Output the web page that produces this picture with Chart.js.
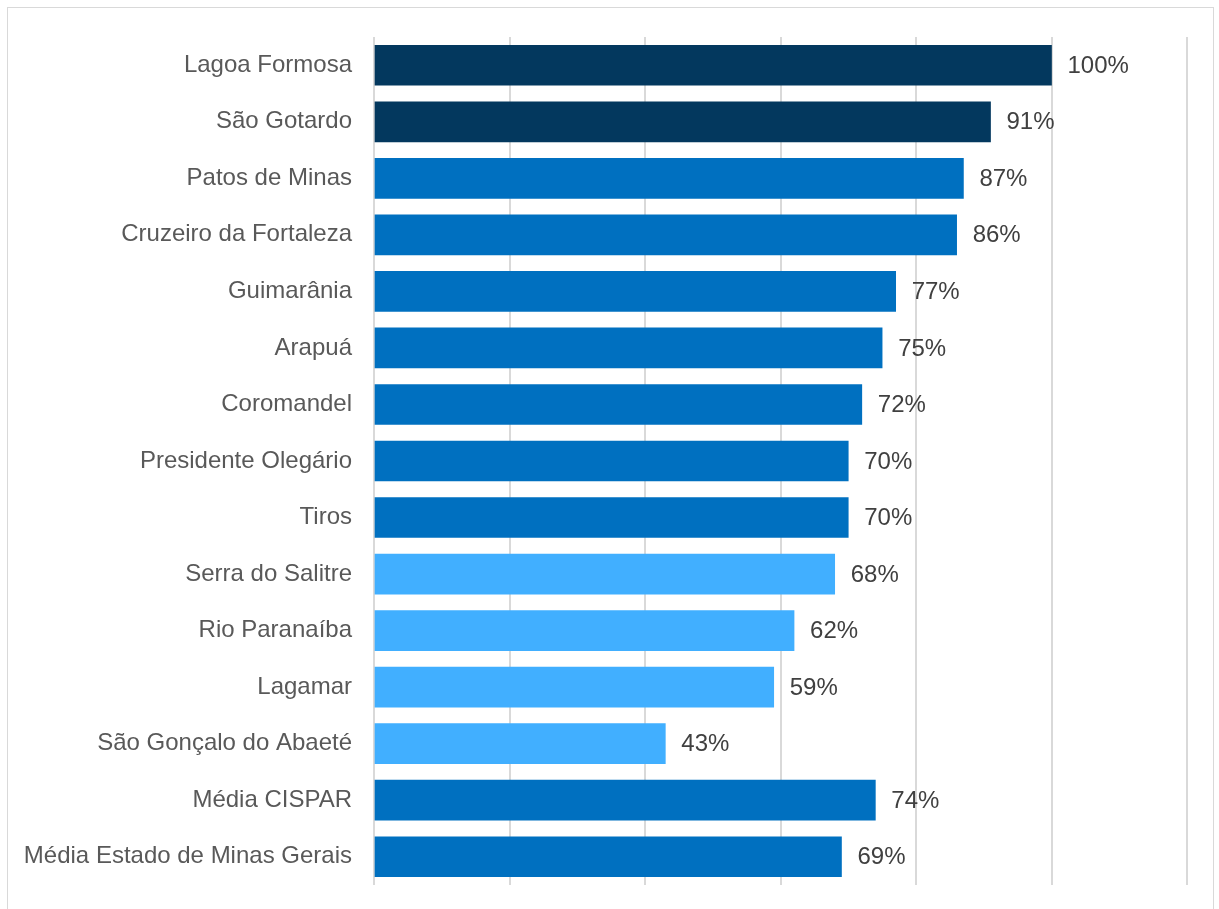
<!DOCTYPE html>
<html>
<head>
<meta charset="utf-8">
<script src="https://cdn.jsdelivr.net/npm/chart.js@4/dist/chart.umd.min.js"></script>
<style>
  html, body { margin: 0; padding: 0; background: #fff; overflow: hidden; }
  #frame {
    position: absolute; left: 7px; top: 7px;
    width: 1207px; height: 920px;
    border: 1px solid #d9d9d9;
    box-sizing: border-box;
  }
  #barChart { position: absolute; left: 0; top: 0; }
</style>
</head>
<body>
<div id="frame"></div>
<canvas id="barChart" width="1219" height="909"></canvas>
<script>
const municipios = [
  'Lagoa Formosa', 'São Gotardo', 'Patos de Minas', 'Cruzeiro da Fortaleza',
  'Guimarânia', 'Arapuá', 'Coromandel', 'Presidente Olegário', 'Tiros',
  'Serra do Salitre', 'Rio Paranaíba', 'Lagamar', 'São Gonçalo do Abaeté',
  'Média CISPAR', 'Média Estado de Minas Gerais'
];
const percentuais = [100, 91, 87, 86, 77, 75, 72, 70, 70, 68, 62, 59, 43, 74, 69];
// faixa de cor de cada barra: 0 = topo, 1 = intermediário, 2 = abaixo
const faixas = [0, 0, 1, 1, 1, 1, 1, 1, 1, 2, 2, 2, 2, 1, 1];

const CORES = ['#03385e', '#0070c0', '#41afff'];
const FONTE = "'Liberation Sans', Arial, sans-serif";

// rótulos de valor à direita de cada barra
const rotulosValor = {
  id: 'rotulosValor',
  afterDatasetsDraw(chart) {
    const ctx = chart.ctx;
    const meta = chart.getDatasetMeta(0);
    ctx.save();
    ctx.font = '24px ' + FONTE;
    ctx.fillStyle = '#404040';
    ctx.textAlign = 'left';
    ctx.textBaseline = 'middle';
    meta.data.forEach((bar, i) => {
      ctx.fillText(Math.round(percentuais[i]) + '%', bar.x + 16, bar.y + 1);
    });
    ctx.restore();
  }
};

new Chart(document.getElementById('barChart').getContext('2d'), {
  type: 'bar',
  data: {
    labels: municipios,
    datasets: [{
      data: percentuais,
      backgroundColor: faixas.map(f => CORES[f]),
      barThickness: 40,
      borderWidth: 0
    }]
  },
  options: {
    indexAxis: 'y',
    responsive: false,
    animation: false,
    layout: { padding: { top: 37, bottom: 24, right: 32, left: 0 } },
    plugins: {
      legend: { display: false },
      tooltip: { enabled: false }
    },
    scales: {
      x: {
        min: 0, max: 120,
        afterFit(scale) { scale.height = 0; },
        ticks: { display: false, stepSize: 20, padding: 0 },
        grid: { color: '#d9d9d9', lineWidth: 2, drawTicks: false },
        border: { display: false }
      },
      y: {
        // largura fixa da coluna de nomes; sem folga extra em cima/embaixo
        afterFit(scale) {
          scale.width = 374;
          scale.paddingTop = 0;
          scale.paddingBottom = 0;
        },
        grid: { display: false, drawTicks: false },
        border: { display: false },
        ticks: {
          padding: 22,
          color: '#595959',
          font: { family: FONTE, size: 24 }
        }
      }
    }
  },
  plugins: [rotulosValor]
});
</script>
</body>
</html>
